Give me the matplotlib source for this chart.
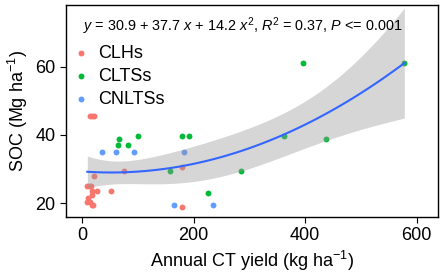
import matplotlib
matplotlib.use("Agg")
import matplotlib.pyplot as plt
import numpy as np

plt.rcParams['font.family'] = ['Liberation Sans', 'DejaVu Sans']
plt.rcParams['mathtext.fontset'] = 'custom'
plt.rcParams['mathtext.rm'] = 'Liberation Sans'
plt.rcParams['mathtext.it'] = 'Liberation Sans:italic'

# values
clh_x = [15, 18, 21, 76, 180, 22, 9.5, 13, 16.7, 18.5, 27.4, 52.6, 18.5, 11.3, 9.5, 14.3, 18.5, 20.3, 180]
clh_y = [45.6, 45.6, 45.6, 29.5, 30.6, 27.9, 25.0, 25.0, 25.0, 23.5, 23.5, 23.5, 22.3, 21.5, 20.4, 20.4, 19.4, 19.4, 18.8]
clts_x = [67, 65, 83, 101, 180, 191, 363, 438, 157, 286, 226, 397, 578]
clts_y = [38.8, 37.1, 37.1, 39.7, 39.7, 39.7, 39.7, 38.8, 29.5, 29.5, 23.0, 61.1, 61.1]
cnlts_x = [36, 61.5, 94, 183.5, 165, 234]
cnlts_y = [35.0, 35.0, 35.0, 35.0, 19.4, 19.4]

groups = ['CLHs', 'CLTSs', 'CNLTSs']
colors = ['#F8766D', '#00BA38', '#619CFF']

fig = plt.figure(figsize=(4.43, 2.77), dpi=100)
ax = fig.add_axes([0.149, 0.217, 0.84, 0.765])

for name, xs, ys, c in zip(groups, [clh_x, clts_x, cnlts_x], [clh_y, clts_y, cnlts_y], colors):
    ax.scatter(xs, ys, s=18, color=c, label=name, linewidths=0, zorder=2)

# quadratic fit with 95% confidence band
x_all = np.array(clh_x + clts_x + cnlts_x, dtype=float)
y_all = np.array(clh_y + clts_y + cnlts_y, dtype=float)
X = np.column_stack([np.ones_like(x_all), x_all, x_all ** 2])
beta, *_ = np.linalg.lstsq(X, y_all, rcond=None)
resid = y_all - X @ beta
dof = len(x_all) - 3
s2 = resid @ resid / dof
cov = s2 * np.linalg.inv(X.T @ X)
xg = np.linspace(x_all.min(), x_all.max(), 80)
Xg = np.column_stack([np.ones_like(xg), xg, xg ** 2])
yg = Xg @ beta
se = np.sqrt(np.einsum('ij,jk,ik->i', Xg, cov, Xg))
t = 2.03
ax.fill_between(xg, yg - t * se, yg + t * se, color='#999999', alpha=0.4, linewidth=0, zorder=3)
ax.plot(xg, yg, color='#3366FF', lw=1.5, zorder=4)

ax.set_xlim(-28.7, 638.6)
ax.set_ylim(16.0, 78.1)
ax.set_xticks([0, 200, 400, 600])
ax.set_yticks([20, 40, 60])
ax.tick_params(labelsize=13, length=4, width=0.8, colors='black')
for sp in ax.spines.values():
    sp.set_linewidth(1.0)

ax.set_xlabel('Annual CT yield (kg ha$^{-1}$)', fontsize=13, labelpad=3)
ax.set_ylabel('SOC (Mg ha$^{-1}$)', fontsize=13, labelpad=4)

ax.text(0.045, 0.9, r'$\it{y}$ = 30.9 + 37.7 $\it{x}$ + 14.2 $\it{x}^2$, $\it{R}^2$ = 0.37, $\it{P}$ <= 0.001',
        transform=ax.transAxes, fontsize=10.4, va='center', ha='left')

ax.legend(loc='upper left', bbox_to_anchor=(-0.003, 0.845), frameon=False, fontsize=13,
          handlelength=1.0, handletextpad=0.45, labelspacing=0.32, borderaxespad=0)

fig.savefig('out.png', dpi=100)
